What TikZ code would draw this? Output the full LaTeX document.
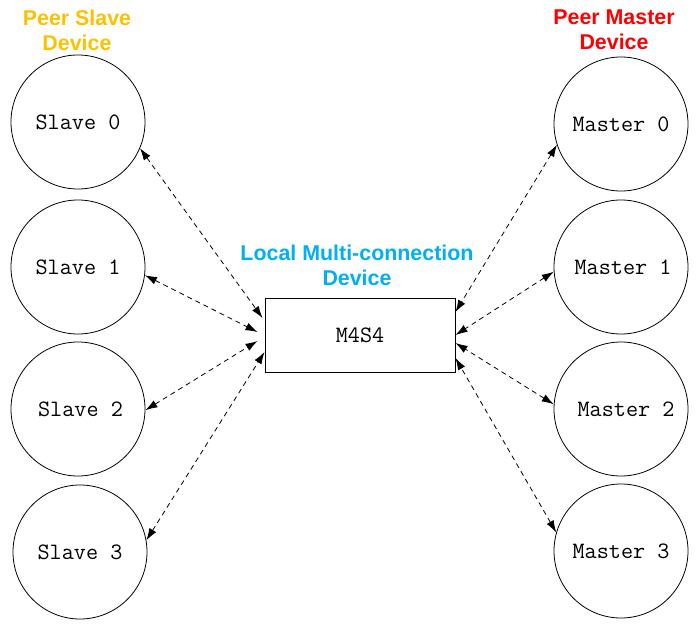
\documentclass[tikz,border=0pt]{standalone}
\usepackage{fontspec}
\newfontfamily\lblfont{Liberation Sans}
\usetikzlibrary{arrows.meta,calc}
\definecolor{slavec}{HTML}{FFC000}
\definecolor{masterc}{HTML}{FF0000}
\definecolor{localc}{HTML}{00B0F0}
\begin{document}
\begin{tikzpicture}[x=1pt,y=-1pt,
  dev/.style={draw=black,line width=0.8pt,circle,minimum size=134pt,inner sep=0pt,
    font=\ttfamily\fontsize{23.5}{27}\selectfont},
  hub/.style={draw=black,line width=1pt,minimum width=190pt,minimum height=74pt,inner sep=0pt,
    font=\ttfamily\fontsize{23.5}{27}\selectfont},
  grp/.style={align=center,font=\lblfont\bfseries\fontsize{21.4}{25}\selectfont},
  link/.style={line width=0.8pt,dash pattern=on 5pt off 4pt,
    {Latex[length=12pt,width=8pt]}-{Latex[length=12pt,width=8pt]}}]
\useasboundingbox (0,0) rectangle (700,628);
% nodes
\node[dev] (s0) at (78,122) {Slave 0};
\node[dev] (s1) at (78,267) {Slave 1};
\node[dev] (s2) at (78,409) {\hspace*{5pt}Slave 2};
\node[dev] (s3) at (80,552) {Slave 3};
\node[dev] (m0) at (621,124) {Master 0};
\node[dev] (m1) at (621,267) {\hspace*{4pt}Master 1};
\node[dev] (m2) at (621,409) {\hspace*{10pt}Master 2};
\node[dev] (m3) at (621,551) {Master 3};
\node[hub] (hub) at (360,335) {M4S4};
% labels
\node[grp,text=slavec] (ls) at (77,30) {Peer Slave\\Device};
\node[grp,text=masterc] (lm) at (614,30) {Peer Master\\Device};
\node[grp,text=localc] (ll) at (357,265) {Local Multi-connection\\Device};
% connectors
\draw[link] (s0.-23) -- ($(hub.west)+(-2,-17)$);
\draw[link] (s1.-7) -- ($(hub.west)+(-7,-3)$);
\draw[link] (s2.-1) -- ($(hub.west)+(-7,6)$);
\draw[link] (s3.10) -- ($(hub.west)+(0,17)$);
\draw[link] (m0.198) -- ($(hub.east)+(0,-23)$);
\draw[link] (m1.184) -- ($(hub.east)+(0,0)$);
\draw[link] (m2.176) -- ($(hub.east)+(0,8)$);
\draw[link] (m3.164) -- ($(hub.east)+(0,23)$);
\end{tikzpicture}
\end{document}
